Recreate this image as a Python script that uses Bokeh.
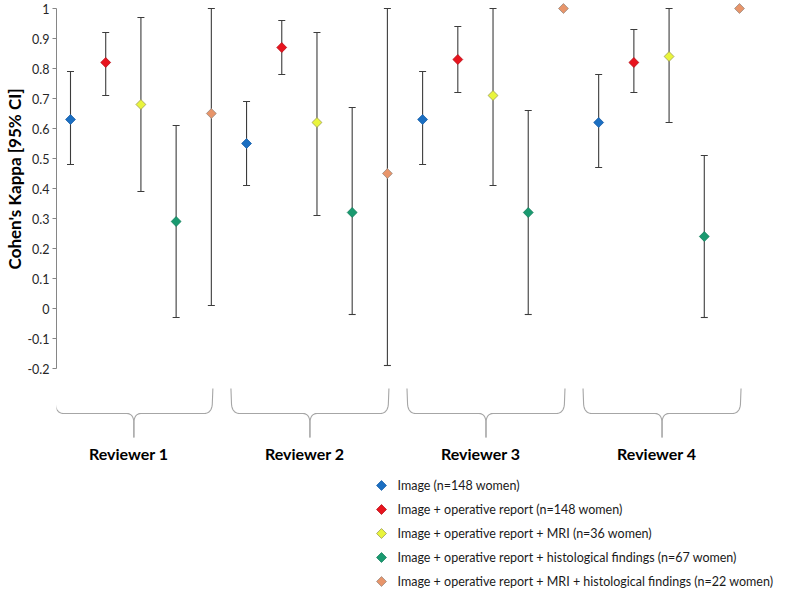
import numpy as np
from bokeh.plotting import figure
from bokeh.models import (ColumnDataSource, Range1d, FixedTicker, Whisker, TeeHead,
                          CustomJSTickFormatter, Title)
from bokeh.core.properties import value
from bokeh.embed import file_html
from bokeh.resources import INLINE

# ---------------- data ----------------
reviewers = ["Reviewer 1", "Reviewer 2", "Reviewer 3", "Reviewer 4"]
series_labels = [
    "Image (n=148 women)",
    "Image + operative report (n=148 women)",
    "Image + operative report + MRI (n=36 women)",
    "Image + operative report + histological findings (n=67 women)",
    "Image + operative report + MRI + histological findings (n=22 women)",
]
kappa_image = [0.63, 0.55, 0.63, 0.62]
lower_image = [0.48, 0.41, 0.48, 0.47]
upper_image = [0.79, 0.69, 0.79, 0.78]

kappa_oprep = [0.82, 0.87, 0.83, 0.82]
lower_oprep = [0.71, 0.78, 0.72, 0.72]
upper_oprep = [0.92, 0.96, 0.94, 0.93]

kappa_mri = [0.68, 0.62, 0.71, 0.84]
lower_mri = [0.39, 0.31, 0.41, 0.62]
upper_mri = [0.97, 0.92, 1.00, 1.00]

kappa_histo = [0.29, 0.32, 0.32, 0.24]
lower_histo = [-0.03, -0.02, -0.02, -0.03]
upper_histo = [0.61, 0.67, 0.66, 0.51]

kappa_all = [0.65, 0.45, 1.00, 1.00]
lower_all = [0.01, -0.19, None, None]
upper_all = [1.00, 1.00, None, None]

y_ticks = [-0.2, -0.1, 0.0, 0.1, 0.2, 0.3, 0.4, 0.5, 0.6, 0.7, 0.8, 0.9, 1.0]
y_title = "Cohen's Kappa [95% CI]"

# ---------------- styles / layout ----------------
fills = ["#1b6fc2", "#e8141e", "#e9f53c", "#1a9a70", "#e8956a"]
outlines = ["#1a5fa8", "#b8121a", "#9c9c5a", "#17805e", "#9a8a80"]
FONT = "Lato"

W, H = 784, 588
LEFT = 56
XPX = (739 - 70) / 19.0   # px per x unit
X0 = -(70 - LEFT) / XPX
X1 = X0 + (W - LEFT) / XPX
YPX = 300.0               # px per y unit
Y1 = 1.0 + 8 / YPX
Y0 = Y1 - H / YPX

def ycan(py):
    """canvas pixel row -> data y"""
    return Y1 - py / YPX

def xcan(px):
    """canvas pixel column -> data x"""
    return X0 + (px - LEFT) / XPX

p = figure(width=W, height=H, x_range=Range1d(X0, X1), y_range=Range1d(Y0, Y1),
           output_backend="svg", toolbar_location=None,
           min_border_left=LEFT, min_border_right=0, min_border_top=0, min_border_bottom=0)
p.outline_line_color = None
p.xaxis.visible = False
p.xgrid.visible = False
p.ygrid.visible = False

yax = p.yaxis[0]
yax.ticker = FixedTicker(ticks=y_ticks)
yax.bounds = (min(y_ticks), max(y_ticks))
yax.formatter = CustomJSTickFormatter(code="return String(Math.round(tick*10)/10);")
yax.axis_line_color = "#868686"
yax.major_tick_line_color = "#868686"
yax.major_tick_out = 4
yax.major_tick_in = 0
yax.minor_tick_line_color = None
yax.major_label_text_font = FONT
yax.major_label_text_font_size = "12.5px"
yax.major_label_text_color = "#262626"
yax.major_label_standoff = 3

# y axis title: a left-side Title, aligned toward the top with an offset
p.add_layout(Title(text=y_title, align="right", offset=88, standoff=0,
                   text_font=FONT, text_font_style="bold", text_font_size="17px",
                   text_color="#000000"), "left")

series = [
    (kappa_image, lower_image, upper_image),
    (kappa_oprep, lower_oprep, upper_oprep),
    (kappa_mri, lower_mri, upper_mri),
    (kappa_histo, lower_histo, upper_histo),
    (kappa_all, lower_all, upper_all),
]
nser = len(series)

# error bars
for si, (k, lo, hi) in enumerate(series):
    xs, los, his = [], [], []
    for ri in range(len(reviewers)):
        if lo[ri] is None or hi[ri] is None:
            continue
        xs.append(ri * nser + si)
        los.append(lo[ri])
        his.append(hi[ri])
    src = ColumnDataSource(dict(x=xs, lo=los, hi=his))
    w = Whisker(source=src, base="x", lower="lo", upper="hi", level="glyph",
                line_color="#3c3c3c", line_width=1.1,
                upper_head=TeeHead(size=7, line_color="#3c3c3c", line_width=1.1),
                lower_head=TeeHead(size=7, line_color="#3c3c3c", line_width=1.1))
    p.add_layout(w)

# markers
for si, (k, lo, hi) in enumerate(series):
    xs = [ri * nser + si for ri in range(len(reviewers))]
    src = ColumnDataSource(dict(x=xs, y=k))
    p.scatter("x", "y", source=src, marker="square", angle=np.pi / 4, size=7,
              fill_color=fills[si], line_color=outlines[si], line_width=0.8,
              level="overlay")

# braces under each reviewer group
def qbez(p0, c, p1, n=10):
    t = np.linspace(0, 1, n)[:, None]
    return (1 - t) ** 2 * np.array(p0) + 2 * (1 - t) * t * np.array(c) + t ** 2 * np.array(p1)

brace_w = 158.0
top_py, mid_py, tip_py = 388, 413, 437
bx_all, by_all = [], []
for ri in range(len(reviewers)):
    xc = ri * nser + (nser - 1) / 2 - 0.2
    hw = brace_w / 2
    half = np.vstack([
        [[-hw, top_py]],
        qbez((-hw + 0.6, mid_py - 9), (-hw + 1.5, mid_py), (-hw + 9, mid_py)),
        qbez((-7, mid_py), (-1, mid_py), (0, mid_py + 8)),
        [[0, tip_py]],
    ])
    mirror = half.copy()
    mirror[:, 0] = -mirror[:, 0]
    for seg in (half, mirror):
        bx_all.append(list(xc + seg[:, 0] / XPX))
        by_all.append([ycan(v) for v in seg[:, 1]])
p.multi_line(bx_all, by_all, line_color="#a6a6a6", line_width=1.1)

# reviewer labels
lab_src = ColumnDataSource(dict(
    x=[ri * nser + (nser - 1) / 2 - 0.35 for ri in range(len(reviewers))],
    y=[ycan(453)] * len(reviewers), t=reviewers))
p.text("x", "y", text="t", source=lab_src, text_align="center", text_baseline="middle",
       text_font=value(FONT), text_font_style="bold", text_font_size="16px", text_color="#000000")

# legend (drawn as swatches + labels so the swatches keep the diamond shape)
row_py = [485 + 24 * i for i in range(nser)]
leg_src = ColumnDataSource(dict(
    x=[xcan(381)] * nser, tx=[xcan(397)] * nser,
    y=[ycan(v) for v in row_py], t=series_labels, fill=fills, line=outlines))
p.scatter("x", "y", source=leg_src, marker="square", angle=np.pi / 4, size=7,
          fill_color="fill", line_color="line", line_width=0.8)
p.text("tx", "y", text="t", source=leg_src, text_align="left", text_baseline="middle",
       text_font=value(FONT), text_font_size="12.5px", text_color="#1a1a1a")

open("out.html", "w").write(file_html(p, INLINE))
